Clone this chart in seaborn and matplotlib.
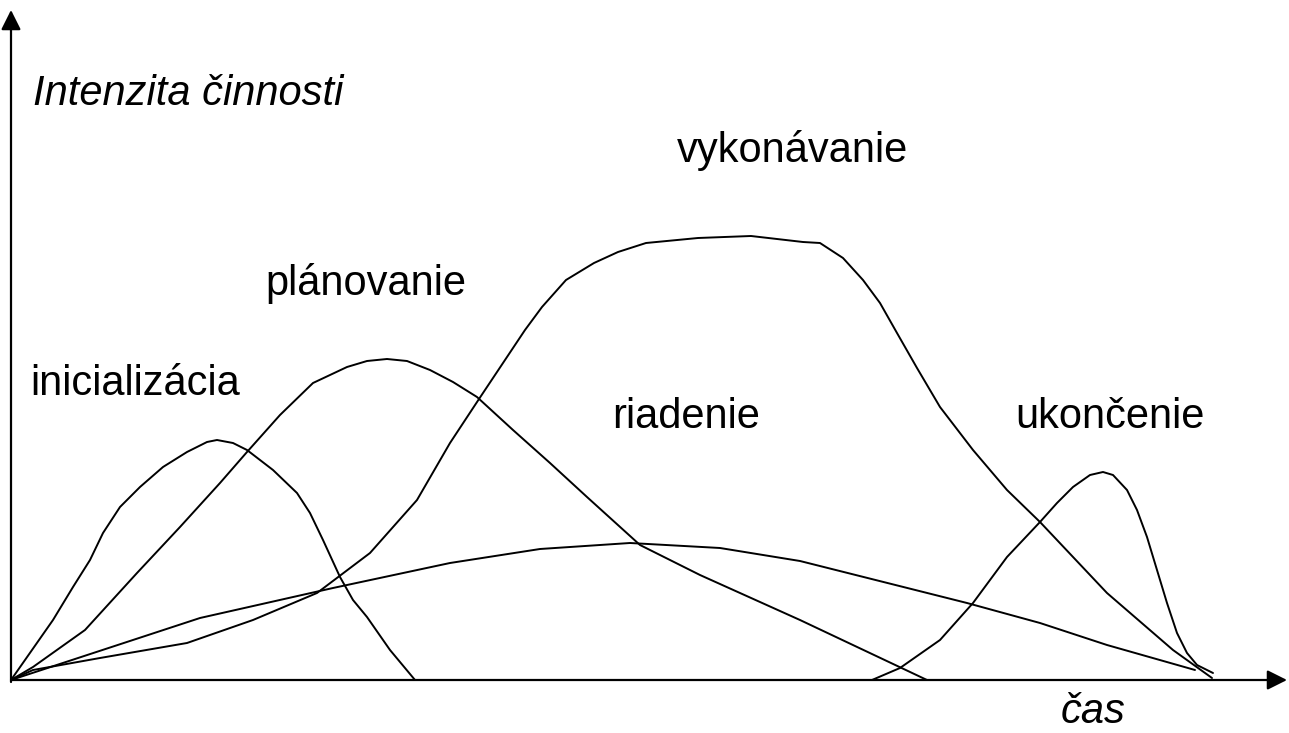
import pandas as pd
import seaborn as sns
import matplotlib.pyplot as plt

# values (time, intensity)
faza = ["inicializácia", "plánovanie", "vykonávanie", "riadenie", "ukončenie"]

init_t = [0, 42, 62, 79, 92, 109, 129, 152, 176, 196, 206, 222, 236, 262,
          286, 299, 312, 329, 342, 356, 379, 404]
init_i = [0, 60, 93, 120, 147, 173, 193, 213, 228, 238, 240, 237, 230, 210,
          187, 167, 140, 103, 80, 63, 30, 0]

plan_t = [0, 22, 74, 126, 169, 209, 236, 269, 302, 336, 356, 376, 396, 419,
          442, 466, 502, 539, 576, 629, 689, 789, 916]
plan_i = [0, 13, 50, 107, 153, 197, 228, 265, 297, 313, 319, 321, 319, 310,
          298, 283, 250, 217, 183, 135, 105, 60, 0]

vyk_t = [0, 22, 89, 176, 242, 306, 359, 406, 439, 468, 514, 531, 555, 583,
         607, 635, 687, 740, 792, 809, 832, 852, 869, 886, 906, 929, 962,
         996, 1029, 1096, 1162, 1201]
vyk_i = [0, 10, 22, 37, 60, 87, 127, 180, 237, 281, 350, 373, 400, 417,
         428, 437, 442, 444, 438, 437, 422, 400, 377, 347, 312, 273, 230,
         190, 158, 87, 30, 2]

riad_t = [0, 189, 322, 439, 529, 619, 709, 789, 956, 1029, 1096, 1184]
riad_i = [0, 62, 92, 117, 131, 137, 132, 119, 77, 57, 35, 10]

ukon_t = [861, 889, 929, 962, 996, 1029, 1046, 1062, 1079, 1092, 1102, 1116,
          1126, 1136, 1146, 1156, 1166, 1176, 1186, 1202]
ukon_i = [0, 12, 40, 77, 123, 158, 177, 193, 205, 208, 205, 190, 170, 143,
          110, 77, 47, 27, 15, 7]

series = [(init_t, init_i), (plan_t, plan_i), (vyk_t, vyk_i),
          (riad_t, riad_i), (ukon_t, ukon_i)]
rows = []
for name, (t, v) in zip(faza, series):
    for a, b in zip(t, v):
        rows.append({"faza": name, "cas": a, "intenzita": b})
df = pd.DataFrame(rows)

sns.set_style("white")
plt.rcParams["font.family"] = ["Liberation Sans", "DejaVu Sans"]
plt.rcParams["text.color"] = "black"

fig = plt.figure(figsize=(12.89, 7.33), dpi=100)
ax = fig.add_axes([0, 0, 1, 1])

sns.lineplot(data=df, x="cas", y="intenzita", units="faza", estimator=None,
             sort=False, color="black", lw=1.4, ax=ax)

# axes with arrows
arrow = dict(arrowstyle="-|>,head_length=0.6,head_width=0.3", mutation_scale=20,
             color="black", lw=1.6, shrinkA=0, shrinkB=0)
ax.annotate("", xy=(1276, 0), xytext=(0, 0), arrowprops=arrow)
ax.annotate("", xy=(0, 670), xytext=(0, -2), arrowprops=arrow)

# labels
pos = {
    "inicializácia": (19, 285),
    "plánovanie": (254, 385),
    "vykonávanie": (666, 518),
    "riadenie": (601, 252),
    "ukončenie": (1004, 252),
}
for name in faza:
    x, y = pos[name]
    ax.text(x, y, name, fontsize=30, color="black", ha="left", va="baseline")

ax.text(22, 575, "Intenzita činnosti", fontsize=30, style="italic",
        color="black", ha="left", va="baseline")
ax.text(1050, -43, "čas", fontsize=30, style="italic", color="black",
        ha="left", va="baseline")

ax.set_xlim(-11, 1278)
ax.set_ylim(-53, 680)
ax.axis("off")

fig.savefig("out.png", dpi=100, facecolor="white")
